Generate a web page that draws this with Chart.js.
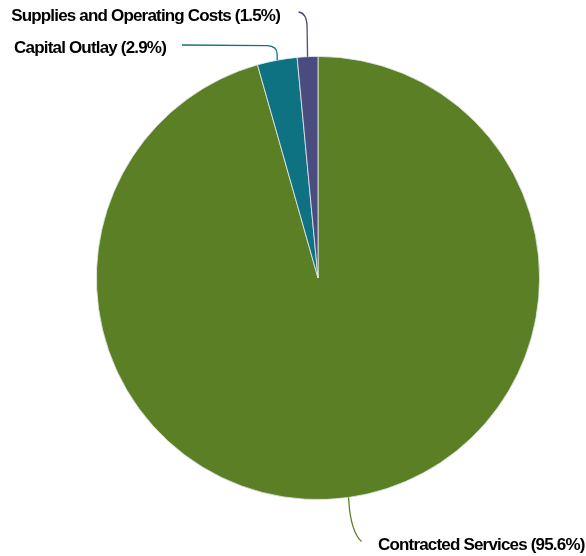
<!DOCTYPE html>
<html><head><meta charset="utf-8">
<script src="https://cdn.jsdelivr.net/npm/chart.js@4"></script>
<style>html,body{margin:0;padding:0;background:#fff}#wrap{width:586px;height:556px}</style>
</head><body><div id="wrap"><canvas id="c" width="586" height="556"></canvas></div>
<script>
const categories = ["Contracted Services", "Capital Outlay", "Supplies and Operating Costs"];
const values = [95.6, 2.9, 1.5];
const colors = ["#5b7f24", "#0f7282", "#4a4b7e"];

// leader-line & label layout (styling only)
const leaderLayout = [
  { path: (s) => [["line", s.x + 1, s.y + 12], ["quad", s.x + 4, s.y + 36, s.x + 13, s.y + 44]], tx: 378, ty: 545, align: "left" },
  { path: (s) => [["line", s.x, s.y - 6], ["quad", s.x, s.y - 14, s.x - 10, s.y - 14.5], ["line", 182, 45]], tx: 166, ty: 48, align: "right" },
  { path: (s) => [["line", s.x - 0.5, 26], ["quad", s.x - 1, 13, s.x - 9, 12]], tx: 280, ty: 16, align: "right" }
];

const leaderPlugin = {
  id: "leaders",
  afterDatasetsDraw(chart) {
    const ctx = chart.ctx;
    const meta = chart.getDatasetMeta(0);
    const total = values.reduce((a, b) => a + b, 0);
    meta.data.forEach((arc, i) => {
      const mid = (arc.startAngle + arc.endAngle) / 2;
      const s = { x: arc.x + Math.cos(mid) * arc.outerRadius, y: arc.y + Math.sin(mid) * arc.outerRadius };
      const L = leaderLayout[i];
      ctx.save();
      ctx.strokeStyle = colors[i];
      ctx.lineWidth = 1.3;
      ctx.beginPath();
      ctx.moveTo(s.x, s.y);
      L.path(s).forEach(seg => {
        if (seg[0] === "line") ctx.lineTo(seg[1], seg[2]);
        else ctx.quadraticCurveTo(seg[1], seg[2], seg[3], seg[4]);
      });
      ctx.stroke();
      ctx.fillStyle = "#000";
      ctx.font = "bold 17px 'Liberation Sans', Arial, sans-serif";
      try { ctx.letterSpacing = "-0.82px"; } catch (e) {}
      ctx.textAlign = "left";
      ctx.textBaseline = "middle";
      const pct = (values[i] / total * 100).toFixed(1);
      const txt = categories[i] + " (" + pct + "%)";
      const w = ctx.measureText(txt).width;
      const x = L.align === "right" ? L.tx - w : L.tx;
      ctx.fillText(txt, x, L.ty);
      ctx.restore();
    });
  }
};

new Chart(document.getElementById("c"), {
  type: "pie",
  data: {
    labels: categories,
    datasets: [{ data: values, backgroundColor: colors, borderColor: "#e6ebee", borderWidth: 0.8 }]
  },
  options: {
    responsive: false,
    animation: false,
    layout: { padding: { left: 96, right: 46, top: 56, bottom: 56 } },
    plugins: { legend: { display: false }, tooltip: { enabled: false } }
  },
  plugins: [leaderPlugin]
});
</script></body></html>
